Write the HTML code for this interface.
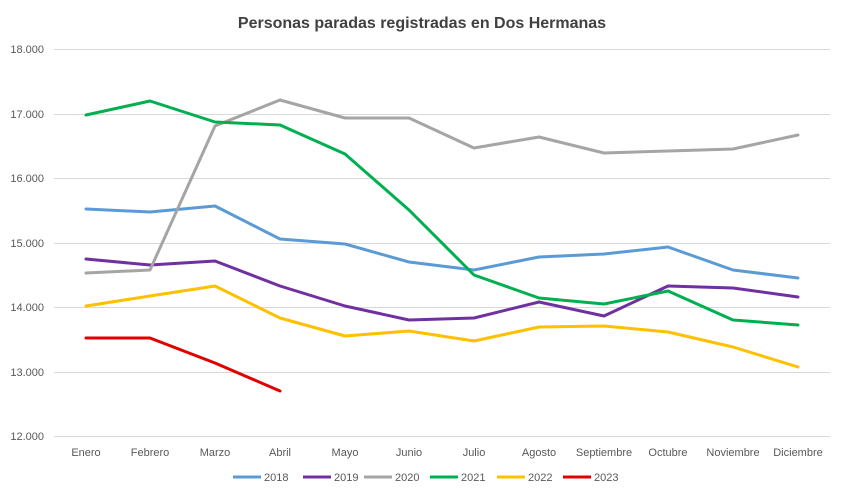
<!DOCTYPE html>
<html><head><meta charset="utf-8"><style>
body{margin:0;background:#fff;}
svg{display:block;font-family:"Liberation Sans",sans-serif;}
</style></head><body>
<svg width="845" height="499" viewBox="0 0 845 499">
<rect x="0" y="0" width="845" height="499" fill="#fff"/>
<text x="422" y="28" text-anchor="middle" font-size="16" font-weight="bold" fill="#404040">Personas paradas registradas en Dos Hermanas</text>
<g stroke="#d9d9d9" stroke-width="1">
<line x1="54" x2="830" y1="49.5" y2="49.5"/>
<line x1="54" x2="830" y1="114.5" y2="114.5"/>
<line x1="54" x2="830" y1="178.5" y2="178.5"/>
<line x1="54" x2="830" y1="243.5" y2="243.5"/>
<line x1="54" x2="830" y1="307.5" y2="307.5"/>
<line x1="54" x2="830" y1="372.5" y2="372.5"/>
<line x1="54" x2="830" y1="436.5" y2="436.5"/>
</g>
<g font-size="11" fill="#595959" text-anchor="end">
<text x="44" y="53">18.000</text>
<text x="44" y="118">17.000</text>
<text x="44" y="182">16.000</text>
<text x="44" y="247">15.000</text>
<text x="44" y="311">14.000</text>
<text x="44" y="376">13.000</text>
<text x="44" y="440">12.000</text>
</g>
<g font-size="11" fill="#595959" text-anchor="middle">
<text x="86" y="456">Enero</text><text x="150" y="456">Febrero</text><text x="215" y="456">Marzo</text><text x="280" y="456">Abril</text><text x="345" y="456">Mayo</text><text x="409" y="456">Junio</text><text x="474" y="456">Julio</text><text x="539" y="456">Agosto</text><text x="604" y="456">Septiembre</text><text x="668" y="456">Octubre</text><text x="733" y="456">Noviembre</text><text x="798" y="456">Diciembre</text>
</g>
<g fill="none" stroke-width="3" stroke-linejoin="round" stroke-linecap="round">
<polyline stroke="#5b9bd5" points="86,209 150,212 215,206 280,239 345,244 409,262 474,270 539,257 604,254 668,247 733,270 798,278"/>
<polyline stroke="#7030a0" points="86,259 150,265 215,261 280,286 345,306 409,320 474,318 539,302 604,316 668,286 733,288 798,297"/>
<polyline stroke="#a5a5a5" points="86,273 150,270 215,126 280,100 345,118 409,118 474,148 539,137 604,153 668,151 733,149 798,135"/>
<polyline stroke="#00b050" points="86,115 150,101 215,122 280,125 345,154 409,210 474,275 539,298 604,304 668,291 733,320 798,325"/>
<polyline stroke="#ffc000" points="86,306 150,296 215,286 280,318 345,336 409,331 474,341 539,327 604,326 668,332 733,347 798,367"/>
<polyline stroke="#e00000" points="86,338 150,338 215,363 280,391"/>
</g>
<g font-size="11" fill="#595959">
<line x1="233" x2="261" y1="477" y2="477" stroke="#5b9bd5" stroke-width="3"/><text x="264" y="481">2018</text>
<line x1="303" x2="331" y1="477" y2="477" stroke="#7030a0" stroke-width="3"/><text x="334" y="481">2019</text>
<line x1="364" x2="392" y1="477" y2="477" stroke="#a5a5a5" stroke-width="3"/><text x="395" y="481">2020</text>
<line x1="430" x2="458" y1="477" y2="477" stroke="#00b050" stroke-width="3"/><text x="461" y="481">2021</text>
<line x1="497" x2="525" y1="477" y2="477" stroke="#ffc000" stroke-width="3"/><text x="528" y="481">2022</text>
<line x1="563" x2="591" y1="477" y2="477" stroke="#e00000" stroke-width="3"/><text x="594" y="481">2023</text>
</g>
</svg>
</body></html>
